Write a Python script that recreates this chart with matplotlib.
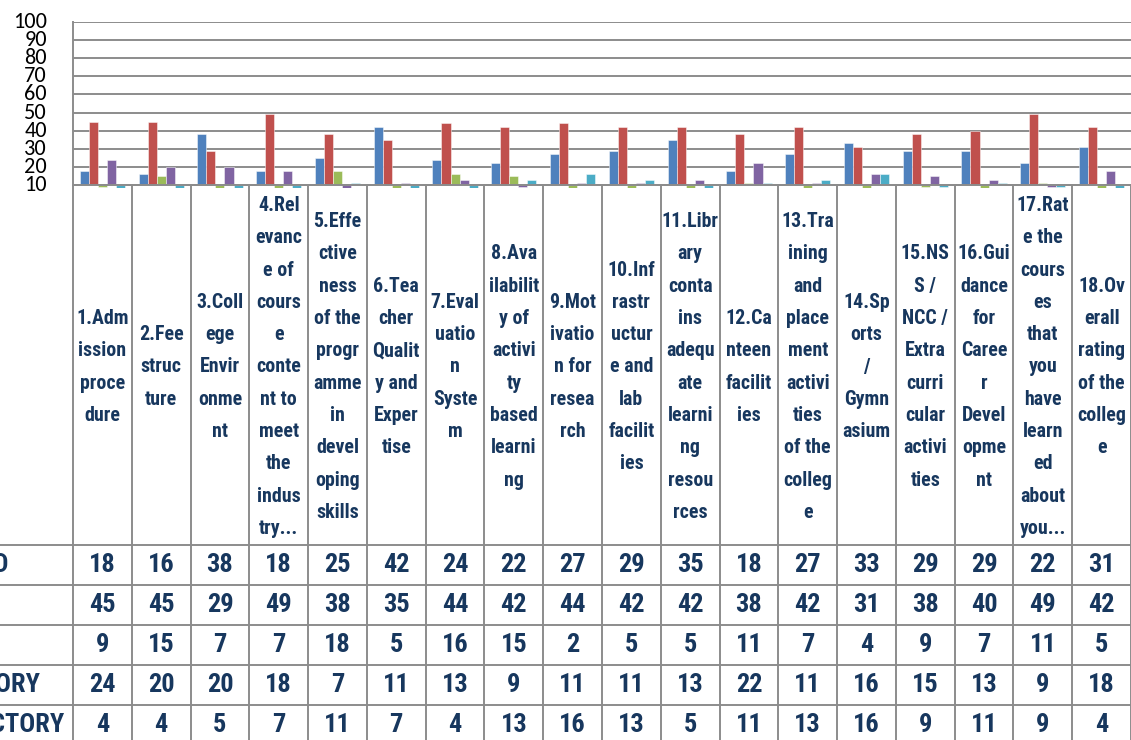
import matplotlib
matplotlib.use("Agg")
import matplotlib.pyplot as plt
from matplotlib import font_manager as fm
from matplotlib.font_manager import FontProperties
import numpy as np

# ---------------- data ----------------
categories = [
    "1.Adm\nission\nproce\ndure",
    "2.Fee\nstruc\nture",
    "3.Coll\nege\nEnvir\nonme\nnt",
    "4.Rel\nevanc\ne of\ncours\ne\nconte\nnt to\nmeet\nthe\nindus\ntry...",
    "5.Effe\nctive\nness\nof the\nprogr\namme\nin\ndevel\noping\nskills",
    "6.Tea\ncher\nQualit\ny and\nExper\ntise",
    "7.Eval\nuatio\nn\nSyste\nm",
    "8.Ava\nilabilit\ny of\nactivi\nty\nbased\nlearni\nng",
    "9.Mot\nivatio\nn for\nresea\nrch",
    "10.Inf\nrastr\nuctur\ne and\nlab\nfacilit\nies",
    "11.Libr\nary\nconta\nins\nadequ\nate\nlearni\nng\nresou\nrces",
    "12.Ca\nnteen\nfacilit\nies",
    "13.Tra\nining\nand\nplace\nment\nactivi\nties\nof the\ncolleg\ne",
    "14.Sp\norts\n/\nGymn\nasium",
    "15.NS\nS /\nNCC /\nExtra\ncurri\ncular\nactivi\nties",
    "16.Gui\ndance\nfor\nCaree\nr\nDevel\nopme\nnt",
    "17.Rat\ne the\ncours\nes\nthat\nyou\nhave\nlearn\ned\nabout\nyou...",
    "18.Ov\nerall\nrating\nof the\ncolleg\ne",
]
series_names = ["VERY GOOD", "GOOD", "AVERAGE", "SATISFACTORY", "UNSATISFACTORY"]
very_good      = [18, 16, 38, 18, 25, 42, 24, 22, 27, 29, 35, 18, 27, 33, 29, 29, 22, 31]
good           = [45, 45, 29, 49, 38, 35, 44, 42, 44, 42, 42, 38, 42, 31, 38, 40, 49, 42]
average        = [9, 15, 7, 7, 18, 5, 16, 15, 2, 5, 5, 11, 7, 4, 9, 7, 11, 5]
satisfactory   = [24, 20, 20, 18, 7, 11, 13, 9, 11, 11, 13, 22, 11, 16, 15, 13, 9, 18]
unsatisfactory = [4, 4, 5, 7, 11, 7, 4, 13, 16, 13, 5, 11, 13, 16, 9, 11, 9, 4]
series_values = [very_good, good, average, satisfactory, unsatisfactory]
series_colors = ["#4F81BD", "#C0504D", "#9BBB59", "#8064A2", "#4BACC6"]
y_ticks = [10, 20, 30, 40, 50, 60, 70, 80, 90, 100]

# ---------------- fonts ----------------
available = {f.name for f in fm.fontManager.ttflist}
cond_font = next((f for f in ["Liberation Sans Narrow", "Roboto Condensed",
                              "DejaVu Sans Condensed", "Open Sans Condensed"]
                  if f in available), "Liberation Sans")
tick_font = next((f for f in ["Carlito", "Lato", "Open Sans"] if f in available),
                 "DejaVu Sans")

TEXT_COLOR = "#17375E"
GRID_COLOR = "#8C8C8C"
LINE_W = 1.4

# ---------------- layout (pixels) ----------------
W, H = 1131, 740
fig = plt.figure(figsize=(W / 100, H / 100), dpi=100)
x0, x1 = 73, 1131
y_top, y_axis = 22, 185
unit_px = (y_axis - y_top) / 90.0
extra = 3
ymin = 10 - extra / unit_px
y_bottom = y_axis + extra
ncat = len(categories)
colw = (x1 - x0) / ncat

ax = fig.add_axes([x0 / W, 1 - y_bottom / H, (x1 - x0) / W, (y_bottom - y_top) / H])
ax.set_xlim(0, ncat)
ax.set_ylim(ymin, 100)

nser = len(series_values)
bw = 1.0 / (nser + 1.5)
xc = np.arange(ncat) + 0.5
for i, (vals, col) in enumerate(zip(series_values, series_colors)):
    v = np.array(vals, dtype=float)
    ax.bar(xc + (i - (nser - 1) / 2) * bw, v - 10, bottom=10, width=bw,
           color=col, edgecolor=(1, 1, 1, 0.55), linewidth=0.6, zorder=3)

ax.set_yticks(y_ticks)
ax.set_yticklabels([])
ax.yaxis.grid(True, color=GRID_COLOR, linewidth=LINE_W, zorder=1)
ax.set_xticks([])
for s in ["top", "right", "bottom"]:
    ax.spines[s].set_visible(False)
ax.spines["left"].set_bounds(10, 100)
ax.spines["left"].set_color(GRID_COLOR)
ax.spines["left"].set_linewidth(LINE_W)
ax.tick_params(axis="y", length=0)
ax.axhline(10, color=GRID_COLOR, linewidth=LINE_W, zorder=4)

# y tick labels: right-aligned, 26 px left of the axis
tick_tr = matplotlib.transforms.blended_transform_factory(fig.transFigure, ax.transData)
for t in y_ticks:
    fig.text(47 / W, t, str(t), transform=tick_tr, ha="right", va="center",
             fontsize=16, color="black", family=tick_font)

# ---------------- data table ----------------
tab = fig.add_axes([0, 0, x1 / W, (H - y_axis) / H])
tab.set_xlim(-x0 / colw, ncat)
tab.set_ylim(H, y_axis)
tab.axis("off")

row_top = 545
row_h = 40
for k in range(ncat + 1):
    tab.plot([k, k], [y_axis, H], color=GRID_COLOR, lw=LINE_W, solid_capstyle="butt")
for r in range(nser):
    yy = row_top + r * row_h
    tab.plot([-x0 / colw, ncat], [yy, yy], color=GRID_COLOR, lw=LINE_W,
             solid_capstyle="butt")

renderer = fig.canvas.get_renderer()

# category font size adapted so the longest line fits a column
base_size = 17.0
fp = FontProperties(family=cond_font, weight="bold", size=base_size)
maxw = 0
for c in categories:
    for line in c.split("\n"):
        w, h, d = renderer.get_text_width_height_descent(line, fp, ismath=False)
        maxw = max(maxw, w)
cat_size = min(base_size, base_size * 57.0 / maxw)
fp_cat = FontProperties(family=cond_font, weight="bold", size=cat_size)

label_center = 367
cat_texts = []
for k, c in enumerate(categories):
    cat_texts.append(tab.text(k + 0.5, label_center, c, ha="center", va="center",
                              multialignment="center", fontproperties=fp_cat,
                              color=TEXT_COLOR, linespacing=1.0))

# choose line spacing so the tallest (11-line) label spans ~342 px, as in the reference
tallest = max(range(ncat), key=lambda k: categories[k].count("\n"))
def extent_height(ls):
    cat_texts[tallest].set_linespacing(ls)
    return cat_texts[tallest].get_window_extent(renderer).height
e1, e2 = extent_height(1.0), extent_height(1.5)
target = 342.0
ls = 1.0 + (target - e1) * 0.5 / (e2 - e1)
for t in cat_texts:
    t.set_linespacing(ls)

fp_num = FontProperties(family=cond_font, weight="bold", size=19)
for r, vals in enumerate(series_values):
    yc = row_top + r * row_h + row_h / 2
    for k, v in enumerate(vals):
        tab.text(k + 0.5, yc, str(v), ha="center", va="center",
                 fontproperties=fp_num, color=TEXT_COLOR)

# row labels: only their right ends show inside the picture, as in the reference
row_label_right_px = [8, -12, -20, 40, 65]
for r, name in enumerate(series_names):
    yc = row_top + r * row_h + row_h / 2
    tab.text((row_label_right_px[r] - x0) / colw, yc, name, ha="right", va="center",
             fontproperties=fp_num, color=TEXT_COLOR, clip_on=False)

fig.savefig("out.png", dpi=100)
